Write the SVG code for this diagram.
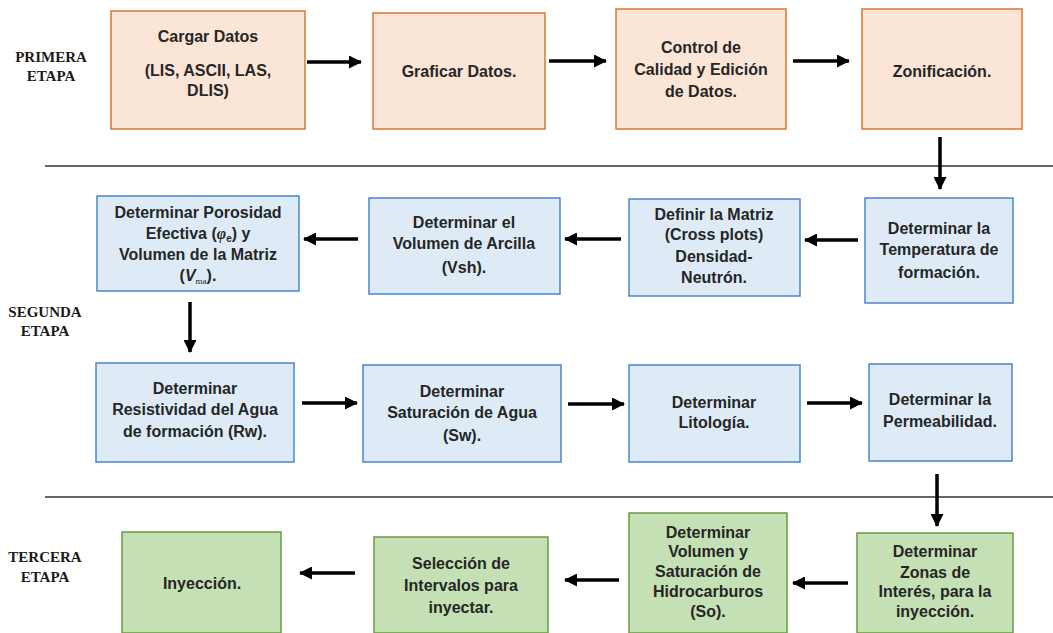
<svg xmlns="http://www.w3.org/2000/svg" width="1053" height="633" viewBox="0 0 1053 633">
  <style>
    .org { fill: #FBE5D6; stroke: #D9772F; stroke-width: 1.5; }
    .blu { fill: #DEEBF7; stroke: #4A86C8; stroke-width: 1.5; }
    .grn { fill: #C5E0B4; stroke: #6A9B45; stroke-width: 1.5; }
    .t { font-family: "Liberation Sans", Arial, sans-serif; font-size: 16px; font-weight: bold; fill: #262626; text-anchor: middle; }
    .stage { font-family: "Liberation Serif", "Times New Roman", serif; font-size: 15px; font-weight: bold; fill: #1a1a1a; text-anchor: middle; }
    .sep { stroke: #333; stroke-width: 1.6; }
    .arr { stroke: #000; stroke-width: 3.5; fill: none; marker-end: url(#head); }
  </style>
  <defs>
    <marker id="head" markerUnits="userSpaceOnUse" markerWidth="13" markerHeight="13" refX="12" refY="6.5" orient="auto">
      <path d="M0,0 L13,6.5 L0,13 z" fill="#000"/>
    </marker>
  </defs>
  <rect width="1053" height="633" fill="#fff"/>

  <!-- stage labels and separators -->
  <g id="stages">
    <text class="stage" x="51" y="62">PRIMERA</text>
    <text class="stage" x="51" y="81">ETAPA</text>
    <text class="stage" x="45" y="317">SEGUNDA</text>
    <text class="stage" x="45" y="336">ETAPA</text>
    <text class="stage" x="45" y="562">TERCERA</text>
    <text class="stage" x="45" y="582">ETAPA</text>
    <line class="sep" x1="45" y1="166" x2="1053" y2="166"/>
    <line class="sep" x1="45" y1="497" x2="1053" y2="497"/>
  </g>

  <!-- first stage -->
  <g id="cargar">
    <rect class="org" x="111" y="11" width="194" height="118"/>
    <text class="t" x="208" y="42">Cargar Datos</text>
    <text class="t" x="208" y="76">(LIS, ASCII, LAS,</text>
    <text class="t" x="208" y="96">DLIS)</text>
  </g>
  <g id="graficar">
    <rect class="org" x="373" y="13" width="172" height="116"/>
    <text class="t" x="459" y="77">Graficar Datos.</text>
  </g>
  <g id="control">
    <rect class="org" x="616" y="9" width="170" height="120"/>
    <text class="t" x="701" y="53">Control de</text>
    <text class="t" x="701" y="75">Calidad y Edición</text>
    <text class="t" x="701" y="97">de Datos.</text>
  </g>
  <g id="zonificacion">
    <rect class="org" x="862" y="9" width="160" height="120"/>
    <text class="t" x="942" y="77">Zonificación.</text>
  </g>

  <!-- second stage -->
  <g id="temperatura">
    <rect class="blu" x="865" y="198" width="148" height="105"/>
    <text class="t" x="939" y="234">Determinar la</text>
    <text class="t" x="939" y="255">Temperatura de</text>
    <text class="t" x="939" y="278">formación.</text>
  </g>
  <g id="matriz">
    <rect class="blu" x="629" y="199" width="171" height="97"/>
    <text class="t" x="714" y="220">Definir la Matriz</text>
    <text class="t" x="714" y="240">(Cross plots)</text>
    <text class="t" x="714" y="262">Densidad-</text>
    <text class="t" x="714" y="283">Neutrón.</text>
  </g>
  <g id="arcilla">
    <rect class="blu" x="369" y="198" width="191" height="96"/>
    <text class="t" x="464" y="228">Determinar el</text>
    <text class="t" x="464" y="249">Volumen de Arcilla</text>
    <text class="t" x="464" y="273">(Vsh).</text>
  </g>
  <g id="porosidad">
    <rect class="blu" x="97" y="196" width="202" height="95"/>
    <text class="t" x="198" y="218">Determinar Porosidad</text>
    <text class="t" x="198" y="239">Efectiva (<tspan font-style="italic" font-family="Liberation Serif">φ</tspan><tspan font-size="10" baseline-shift="-3">e</tspan>) y</text>
    <text class="t" x="198" y="260">Volumen de la Matriz</text>
    <text class="t" x="198" y="281">(<tspan font-style="italic">V</tspan><tspan font-size="9" font-weight="normal" font-family="Liberation Serif" baseline-shift="-3">ma</tspan>).</text>
  </g>
  <g id="resistividad">
    <rect class="blu" x="96" y="363" width="198" height="99"/>
    <text class="t" x="195" y="394">Determinar</text>
    <text class="t" x="195" y="415">Resistividad del Agua</text>
    <text class="t" x="195" y="437">de formación (Rw).</text>
  </g>
  <g id="saturacion">
    <rect class="blu" x="363" y="365" width="198" height="97"/>
    <text class="t" x="462" y="397">Determinar</text>
    <text class="t" x="462" y="418">Saturación de Agua</text>
    <text class="t" x="462" y="441">(Sw).</text>
  </g>
  <g id="litologia">
    <rect class="blu" x="629" y="365" width="171" height="97"/>
    <text class="t" x="714" y="408">Determinar</text>
    <text class="t" x="714" y="428">Litología.</text>
  </g>
  <g id="permeabilidad">
    <rect class="blu" x="869" y="364" width="143" height="97"/>
    <text class="t" x="940" y="405">Determinar la</text>
    <text class="t" x="940" y="427">Permeabilidad.</text>
  </g>

  <!-- third stage -->
  <g id="zonas">
    <rect class="grn" x="857" y="533" width="156" height="100"/>
    <text class="t" x="935" y="557">Determinar</text>
    <text class="t" x="935" y="578">Zonas de</text>
    <text class="t" x="935" y="597">Interés, para la</text>
    <text class="t" x="935" y="617">inyección.</text>
  </g>
  <g id="hidrocarburos">
    <rect class="grn" x="629" y="513" width="158" height="120"/>
    <text class="t" x="708" y="538">Determinar</text>
    <text class="t" x="708" y="557">Volumen y</text>
    <text class="t" x="708" y="577">Saturación de</text>
    <text class="t" x="708" y="597">Hidrocarburos</text>
    <text class="t" x="708" y="617">(So).</text>
  </g>
  <g id="seleccion">
    <rect class="grn" x="374" y="537" width="174" height="96"/>
    <text class="t" x="461" y="569">Selección de</text>
    <text class="t" x="461" y="591">Intervalos para</text>
    <text class="t" x="461" y="613">inyectar.</text>
  </g>
  <g id="inyeccion">
    <rect class="grn" x="122" y="532" width="159" height="101"/>
    <text class="t" x="202" y="589">Inyección.</text>
  </g>

  <!-- connectors -->
  <g id="connectors">
    <line class="arr" x1="307" y1="62" x2="361" y2="62"/>
    <line class="arr" x1="549" y1="61" x2="606" y2="61"/>
    <line class="arr" x1="793" y1="61" x2="849" y2="61"/>
    <line class="arr" x1="940" y1="137" x2="940" y2="189"/>
    <line class="arr" x1="858" y1="240" x2="805" y2="240"/>
    <line class="arr" x1="621" y1="239" x2="565" y2="239"/>
    <line class="arr" x1="358" y1="239" x2="304" y2="239"/>
    <line class="arr" x1="190" y1="302" x2="190" y2="352"/>
    <line class="arr" x1="302" y1="403" x2="357" y2="403"/>
    <line class="arr" x1="568" y1="404" x2="624" y2="404"/>
    <line class="arr" x1="807" y1="403" x2="862" y2="403"/>
    <line class="arr" x1="937" y1="474" x2="937" y2="526"/>
    <line class="arr" x1="848" y1="583" x2="793" y2="583"/>
    <line class="arr" x1="619" y1="580" x2="565" y2="580"/>
    <line class="arr" x1="355" y1="573" x2="300" y2="573"/>
  </g>
</svg>
